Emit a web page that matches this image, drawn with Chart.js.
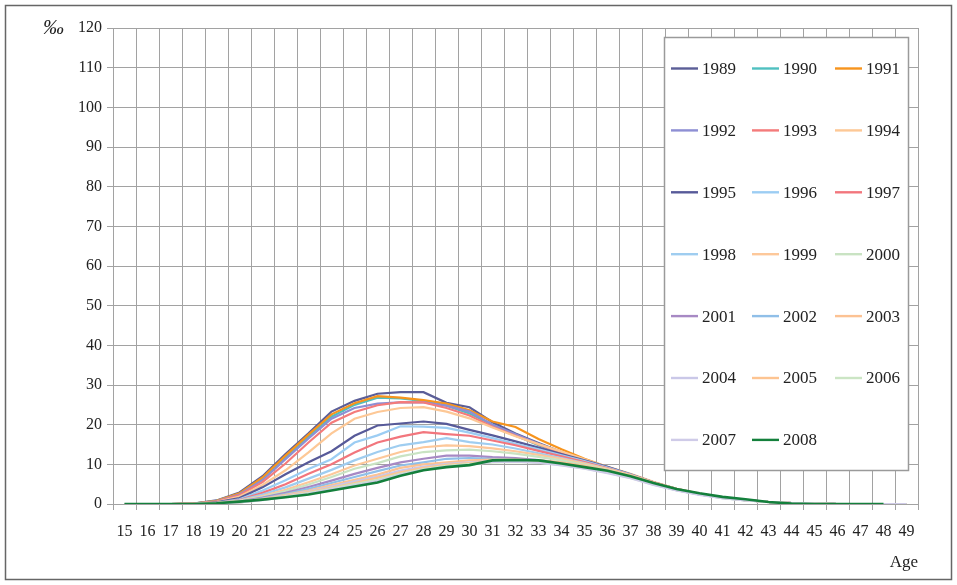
<!DOCTYPE html>
<html>
<head>
<meta charset="utf-8">
<script src="https://cdn.jsdelivr.net/npm/chart.js@4.4.1/dist/chart.umd.min.js"></script>
<style>
  html, body { margin: 0; padding: 0; background: #fff; }
  #wrap { width: 957px; height: 585px; position: relative; }
</style>
</head>
<body>
<div id="wrap"><canvas id="c" width="957" height="585"></canvas></div>
<script>
// Age-specific rates (per mille), ages 15 to 49
const ages = ['15','16','17','18','19','20','21','22','23','24','25','26','27','28','29','30','31','32','33','34','35','36','37','38','39','40','41','42','43','44','45','46','47','48','49'];

const r1989 = [0,0,0,0.1,0.9,2.9,7.0,12.6,17.8,23.3,26.0,27.8,28.2,28.2,25.5,24.4,20.6,17.8,15.4,13.1,11.0,9.0,7.3,5.4,3.7,2.5,1.6,1.0,0.5,0.2,0.1,0,0,0,0];
const r1990 = [0,0,0,0.1,0.8,2.6,6.4,11.8,17.0,22.0,25.0,26.8,26.6,26.0,24.8,22.8,20.0,17.3,14.8,12.8,10.9,9.0,7.3,5.4,3.7,2.5,1.6,1.0,0.5,0.2,0.1,0,0,0,0];
const r1991 = [0,0,0,0.1,0.8,2.7,6.7,12.2,17.5,22.6,25.4,27.2,26.8,26.2,25.3,23.6,20.8,19.4,16.4,13.8,11.4,9.3,7.5,5.5,3.8,2.5,1.6,1.0,0.5,0.2,0.1,0,0,0,0];
const r1992 = [0,0,0,0.1,0.7,2.4,6.0,11.3,16.5,21.5,24.2,25.3,25.6,25.6,24.8,23.3,20.0,17.6,15.2,13.0,11.0,9.1,7.4,5.4,3.7,2.5,1.6,1.0,0.5,0.2,0.1,0,0,0,0];
const r1993 = [0,0,0,0.1,0.6,2.2,5.5,10.2,15.5,20.5,23.2,24.9,25.7,25.6,24.2,22.3,19.5,17.2,15.0,12.9,11.0,9.1,7.4,5.5,3.7,2.5,1.6,1.0,0.5,0.2,0.1,0,0,0,0];
const r1994 = [0,0,0,0.1,0.5,1.9,4.8,8.5,13.0,17.8,21.5,23.2,24.2,24.4,23.3,21.6,19.3,17.1,15.1,13.2,11.3,9.4,7.6,5.6,3.8,2.6,1.7,1.0,0.5,0.2,0.1,0,0,0,0];
const r1995 = [0,0,0,0,0.4,1.5,4.2,7.5,10.5,13.3,17.2,19.8,20.3,20.8,20.2,18.7,17.3,15.8,14.2,12.6,11.0,9.4,7.5,5.5,3.8,2.5,1.6,1.0,0.5,0.2,0.1,0,0,0,0];
const r1996 = [0,0,0,0,0.3,1.2,3.4,6.0,8.8,11.3,15.5,17.3,19.6,19.5,19.2,18.0,16.6,15.2,13.8,12.3,10.8,9.2,7.4,5.4,3.7,2.5,1.6,1.0,0.5,0.2,0.1,0,0,0,0];
const r1997 = [0,0,0,0,0.3,1.0,2.8,5.0,7.6,10.0,13.0,15.5,17.0,18.1,17.6,17.2,16.0,14.8,13.4,12.0,10.6,9.0,7.3,5.4,3.7,2.5,1.6,1.0,0.5,0.2,0.1,0,0,0,0];
const r1998 = [0,0,0,0,0.2,0.9,2.4,4.2,6.4,8.6,11.0,13.1,14.8,15.6,16.6,15.6,15.0,14.0,12.8,11.6,10.3,8.8,7.2,5.3,3.7,2.5,1.6,1.0,0.5,0.2,0.1,0,0,0,0];
const r1999 = [0,0,0,0,0.2,0.8,2.0,3.6,5.5,7.5,9.7,11.4,13.1,14.3,14.8,14.6,14.0,13.3,12.4,11.4,10.2,8.9,7.3,5.5,3.8,2.6,1.7,1.0,0.5,0.2,0.1,0,0,0,0];
const r2000 = [0,0,0,0,0.2,0.7,1.8,3.2,4.9,6.8,8.9,10.3,12.0,13.1,13.5,13.7,13.3,12.7,11.9,11.0,9.9,8.6,7.1,5.3,3.6,2.5,1.6,1.0,0.5,0.2,0.1,0,0,0,0];
const r2001 = [0,0,0,0,0.1,0.6,1.6,2.8,4.3,5.9,7.6,9.1,10.5,11.4,12.2,12.2,11.8,11.6,11.1,10.4,9.5,8.3,6.9,5.1,3.6,2.4,1.6,1.0,0.5,0.2,0.1,0,0,0,0];
const r2002 = [0,0,0,0,0.1,0.5,1.4,2.5,3.8,5.3,6.8,8.3,9.7,10.5,11.4,11.6,11.4,11.2,10.8,10.2,9.3,8.2,6.8,5.0,3.5,2.4,1.6,1.0,0.5,0.2,0.1,0,0,0,0];
const r2003 = [0,0,0,0,0.1,0.5,1.3,2.3,3.4,4.8,6.1,7.4,9.1,10.0,10.5,11.0,11.2,11.2,11.0,10.5,9.6,8.5,7.1,5.3,3.7,2.5,1.6,1.0,0.5,0.2,0.1,0,0,0,0];
const r2004 = [0,0,0,0,0.1,0.4,1.2,2.1,3.2,4.4,5.7,6.9,8.4,9.4,10.1,10.5,10.8,10.8,10.5,9.9,9.1,8.0,6.7,5.0,3.5,2.4,1.5,0.9,0.5,0.2,0.1,0,0,0,0];
const r2005 = [0,0,0,0,0.1,0.4,1.1,2.0,3.0,4.1,5.3,6.6,8.0,9.1,9.9,10.3,10.6,10.8,10.6,10.1,9.4,8.3,7.0,5.3,3.7,2.5,1.6,1.0,0.5,0.2,0.1,0,0,0,0];
const r2006 = [0,0,0,0,0.1,0.4,1.0,1.9,2.8,3.9,5.0,6.1,7.6,8.8,9.6,10.1,10.5,10.6,10.4,9.8,9.0,7.9,6.6,4.9,3.5,2.4,1.5,0.9,0.5,0.2,0.1,0,0,0,0];
const r2007 = [0,0,0,0,0.1,0.4,1.0,1.8,2.6,3.7,4.7,5.8,7.4,8.6,9.4,9.9,10.6,10.7,10.4,9.7,8.9,7.8,6.5,4.8,3.4,2.3,1.5,0.9,0.5,0.2,0.1,0,0,0,0];
const r2008 = [0,0,0,0,0.2,0.6,1.1,1.7,2.4,3.4,4.4,5.4,7.1,8.5,9.3,9.8,11.0,11.1,11.0,10.2,9.3,8.4,7.0,5.3,3.8,2.7,1.8,1.2,0.5,0.1,0,0,0,0,null];

const years = ['1989','1990','1991','1992','1993','1994','1995','1996','1997','1998','1999','2000','2001','2002','2003','2004','2005','2006','2007','2008'];
const series = [r1989,r1990,r1991,r1992,r1993,r1994,r1995,r1996,r1997,r1998,r1999,r2000,r2001,r2002,r2003,r2004,r2005,r2006,r2007,r2008];

// line colours, one per year
const lineColors = ['#5b5e97','#4fc0c0','#f7941d','#8e8fd4','#f47b7b','#fdc896','#575a99','#9ccdf3','#f2767d','#9fcdf0','#fdc89a','#c9e3c3','#a789c4','#90bfe8','#fcc293','#cac8e8','#fdc491','#cbe5c4','#cfcbe8','#14803c'];

const serif = "'Liberation Serif', 'Times New Roman', serif";
const gridGrey = '#a2a2a2';

const datasets = years.map((y, i) => ({
  label: y,
  data: series[i],
  borderColor: lineColors[i],
  backgroundColor: lineColors[i],
  borderWidth: i === years.length - 1 ? 2.6 : 2.2,
  pointRadius: 0,
  pointHoverRadius: 0,
  tension: 0,
  fill: false,
  spanGaps: false,
  order: -i   // later years drawn on top
}));

// outer frame, white background and the per-mille unit mark
const framePlugin = {
  id: 'frame',
  beforeDraw(chart) {
    const ctx = chart.ctx;
    ctx.save();
    ctx.fillStyle = '#fff';
    ctx.fillRect(0, 0, chart.width, chart.height);
    ctx.strokeStyle = '#666';
    ctx.lineWidth = 1.5;
    ctx.strokeRect(5.5, 5.5, chart.width - 11, chart.height - 11);
    ctx.restore();
  },
  afterDraw(chart) {
    const ctx = chart.ctx;
    ctx.save();
    ctx.fillStyle = '#222';
    ctx.font = 'italic 21px ' + serif;
    ctx.textAlign = 'left';
    ctx.textBaseline = 'middle';
    ctx.fillText('‰', 43, 28);
    ctx.restore();
  }
};

// boxed three-column legend inside the plot
const boxLegend = {
  id: 'boxLegend',
  afterDatasetsDraw(chart) {
    const ctx = chart.ctx;
    const bx = 664.5, by = 37.5, bw = 244, bh = 433;
    ctx.save();
    ctx.fillStyle = '#fff';
    ctx.fillRect(bx, by, bw, bh);
    ctx.strokeStyle = '#9a9a9a';
    ctx.lineWidth = 1.5;
    ctx.strokeRect(bx, by, bw, bh);
    const colX = [671, 752, 835];
    const rowY0 = 68.5, rowStep = 61.9, sample = 27;
    ctx.font = '17px ' + serif;
    ctx.textBaseline = 'middle';
    ctx.textAlign = 'left';
    chart.data.datasets.forEach((ds, i) => {
      const c = i % 3, r = Math.floor(i / 3);
      const x = colX[c], y = rowY0 + r * rowStep;
      ctx.strokeStyle = ds.borderColor;
      ctx.lineWidth = 2.4;
      ctx.beginPath();
      ctx.moveTo(x, y);
      ctx.lineTo(x + sample, y);
      ctx.stroke();
      ctx.fillStyle = '#222';
      ctx.fillText(ds.label, x + sample + 4, y + 1);
    });
    ctx.restore();
  }
};

new Chart(document.getElementById('c'), {
  type: 'line',
  data: { labels: ages, datasets },
  options: {
    responsive: false,
    animation: false,
    devicePixelRatio: 1,
    layout: { padding: { left: 0, top: 28, right: 39, bottom: 0 } },
    plugins: {
      legend: { display: false },
      tooltip: { enabled: false },
      title: { display: false }
    },
    scales: {
      x: {
        type: 'category',
        offset: true,
        grid: { offset: true, color: gridGrey, lineWidth: 1, tickLength: 6, drawOnChartArea: true },
        border: { color: gridGrey, width: 1 },
        ticks: { color: '#222', font: { family: serif, size: 16 }, maxRotation: 0, autoSkip: false, padding: 12 },
        title: { display: true, text: 'Age', align: 'end', color: '#222', font: { family: serif, size: 17 }, padding: { top: 0, bottom: 12 } },
        afterFit(scale) { scale.height = 81; }
      },
      y: {
        min: 0,
        max: 120,
        ticks: { stepSize: 10, color: '#222', font: { family: serif, size: 16 }, padding: 5 },
        grid: { color: gridGrey, lineWidth: 1, tickLength: 6 },
        border: { color: gridGrey, width: 1 },
        afterFit(scale) { scale.width = 113; }
      }
    }
  },
  plugins: [framePlugin, boxLegend]
});
</script>
</body>
</html>
